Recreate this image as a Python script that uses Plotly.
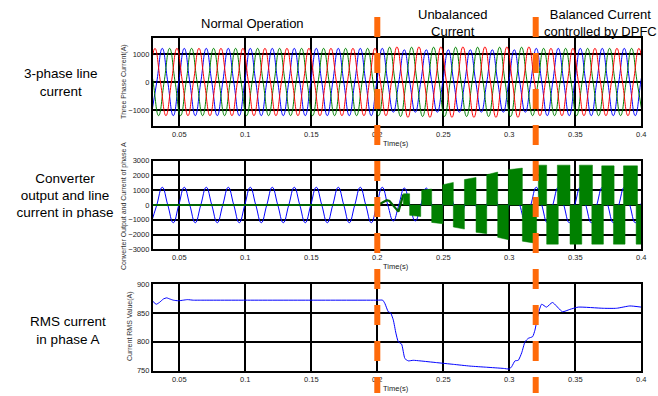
import numpy as np
import plotly.graph_objects as go

# ---------------- data ----------------
QUARTER = 1 / 240.0          # sample spacing: quarter cycle of the 60 Hz line current

# phase A (blue): samples every quarter cycle starting at ia_t0
ia_t0 = 0.02877
ia = [-1200, 0, 1200, 0, -1200, 0, 1200, 0, -1200, 0, 1200, 0, -1200, 0, 1200, 0,
      -1200, 0, 1200, 0, -1200, 0, 1200, 0, -1200, 0, 1200, 0, -1200, 0, 1200, 0,
      -1200, 0, 1200, 0, -1200, 0, 1200, 0, -1200, 0, 1200, 0,
      -1080, 0, 1150, 0, -1080, 0, 1150, 0, -1080, 0, 1150, 0, -1080, 0, 1150, 0,
      -1080, 0, 1150, 0, -1080, 0, 1150, 0, -1080, 0, 1200, 0,
      -1200, 0, 1200, 0, -1200, 0, 1200, 0, -1200, 0, 1200, 0, -1200, 0, 1200, 0,
      -1200, 0, 1200]

# phase B (green)
ib_t0 = 0.02599
ib = [1200, 0, -1200, 0, 1200, 0, -1200, 0, 1200, 0, -1200, 0, 1200, 0, -1200, 0,
      1200, 0, -1200, 0, 1200, 0, -1200, 0, 1200, 0, -1200, 0, 1200, 0, -1200, 0,
      1200, 0, -1200, 0, 1200, 0, -1200, 0, 1200, 0, -1200, 0,
      1240, 0, -1230, 0, 1240, 0, -1230, 0, 1240, 0, -1230, 0, 1240, 0, -1230, 0,
      1240, 0, -1230, 0, 1240, 0, -1230, 0, 1240, 0, -1200, 0,
      1200, 0, -1200, 0, 1200, 0, -1200, 0, 1200, 0, -1200, 0, 1200, 0, -1200, 0,
      1200, 0, -1200]

# phase C (red)
ic_t0 = 0.02738
ic = [0, 1200, 0, -1200, 0, 1200, 0, -1200, 0, 1200, 0, -1200, 0, 1200, 0, -1200,
      0, 1200, 0, -1200, 0, 1200, 0, -1200, 0, 1200, 0, -1200, 0, 1200, 0, -1200,
      0, 1200, 0, -1200, 0, 1200, 0, -1200, 0, 1200, 0, -1200,
      0, 1250, 0, -1260, 0, 1250, 0, -1260, 0, 1250, 0, -1260, 0, 1250, 0, -1260,
      0, 1250, 0, -1260, 0, 1250, 0, -1260, 0, 1250, 0, -1200,
      0, 1200, 0, -1200, 0, 1200, 0, -1200, 0, 1200, 0, -1200, 0, 1200, 0, -1200,
      0, 1200, 0]

# converter output: continuous part before switching starts
conv_t = [0.03, 0.2005, 0.2071, 0.2092, 0.2160, 0.2197]
conv_v = [0, 0, 320, 270, -450, 700]

# converter output: switching blocks (half-cycle PWM envelopes)
blk_start = [0.2197, 0.2245, 0.2336, 0.2412, 0.2496, 0.2576, 0.2660, 0.2748, 0.2829, 0.2912,
             0.2993, 0.3099, 0.3220, 0.3283, 0.3364, 0.3460, 0.3531, 0.3625, 0.3700, 0.3789,
             0.3865, 0.3961]
blk_end = [0.2245, 0.2329, 0.2412, 0.2496, 0.2576, 0.2660, 0.2748, 0.2829, 0.2912, 0.2993,
           0.3099, 0.3207, 0.3283, 0.3371, 0.3460, 0.3549, 0.3630, 0.3713, 0.3794, 0.3877,
           0.3971, 0.4000]
blk_v0 = [760, -700, 1000, -1180, 1370, -1490, 1720, -1850, 2050, -2190,
          2390, -2450, 2700, -2650, 2700, -2650, 2700, -2650, 2650, -2650, 2650, -2650]
blk_v1 = [760, -780, 1080, -1270, 1530, -1630, 1870, -1940, 2230, -2350,
          2500, -2600, 2700, -2650, 2700, -2650, 2700, -2650, 2650, -2650, 2650, -2650]

# RMS current of phase A
rms_t = [0.0300, 0.0325, 0.0349, 0.0379, 0.0404, 0.0429, 0.0455, 0.0493, 0.0530, 0.0561,
         0.0606, 0.0650, 0.1000, 0.1500, 0.2000, 0.2041, 0.2058, 0.2083, 0.2101, 0.2121,
         0.2141, 0.2159, 0.2184, 0.2209, 0.2235, 0.2272, 0.2323, 0.2449, 0.2576, 0.2702,
         0.2828, 0.2954, 0.3000, 0.3018, 0.3043, 0.3068, 0.3094, 0.3119, 0.3144, 0.3177,
         0.3194, 0.3220, 0.3245, 0.3282, 0.3327, 0.3403, 0.3458, 0.3522, 0.3711, 0.3812,
         0.3913, 0.4000]
rms_v = [870, 865, 868, 874, 876, 874, 872, 871, 872, 873,
         872, 872, 872, 872, 872, 872, 866, 852, 850, 838,
         815, 800, 796, 771, 767, 768, 767, 764, 761, 758,
         756, 754, 753, 757, 767, 768, 781, 800, 806, 809,
         820, 849, 865, 860, 868, 852, 856, 860, 858, 858,
         862, 860]

event_times = [0.2, 0.32]
x_ticks = [0.05, 0.1, 0.15, 0.2, 0.25, 0.3, 0.35, 0.4]
x_tick_text = ["0.05", "0.1", "0.15", "0.2", "0.25", "0.3", "0.35", "0.4"]
y1_ticks = [-1000, 0, 1000]
y2_ticks = [-3000, -2000, -1000, 0, 1000, 2000, 3000]
y3_ticks = [750, 800, 850, 900]

# ---------------- figure ----------------
W, H = 658, 396
FONT = "Liberation Sans, Arial, sans-serif"

def qt(t0, vals):
    return t0 + QUARTER * np.arange(len(vals))

fig = go.Figure()

# top: three-phase line currents
for t0, vals, col in [(ia_t0, ia, "#0000ff"), (ib_t0, ib, "#008000"), (ic_t0, ic, "#ff0000")]:
    fig.add_trace(go.Scatter(x=qt(t0, vals), y=vals, mode="lines",
                             line=dict(color=col, width=1, shape="spline", smoothing=1.3),
                             xaxis="x", yaxis="y", hoverinfo="skip"))

# middle: line current of phase A and converter output
fig.add_trace(go.Scatter(x=qt(ia_t0, ia), y=ia, mode="lines",
                         line=dict(color="#0000ff", width=1, shape="spline", smoothing=1.3),
                         xaxis="x2", yaxis="y2", hoverinfo="skip"))
fig.add_trace(go.Scatter(x=conv_t, y=conv_v, mode="lines",
                         line=dict(color="#006400", width=2.2),
                         xaxis="x2", yaxis="y2", hoverinfo="skip"))
bx, by = [], []
for t0, t1, v0, v1 in zip(blk_start, blk_end, blk_v0, blk_v1):
    bx += [t0, t0, t1, t1, t0, None]
    by += [0, v0, v1, 0, 0, None]
fig.add_trace(go.Scatter(x=bx, y=by, mode="lines", fill="toself",
                         fillcolor="#008000", line=dict(color="#008000", width=0.5),
                         xaxis="x2", yaxis="y2", hoverinfo="skip"))

# bottom: RMS current
fig.add_trace(go.Scatter(x=rms_t, y=rms_v, mode="lines",
                         line=dict(color="#0000ff", width=1, shape="spline", smoothing=0.5),
                         xaxis="x3", yaxis="y3", hoverinfo="skip"))

# left label that is clipped at the bottom in the reference
fig.add_trace(go.Scatter(x=[65, 65, 65], y=[396 - 180, 396 - 197, 396 - 214], mode="text",
                         text=["Converter", "output and line", "current in phase"],
                         textfont=dict(family=FONT, size=13.5, color="#000"),
                         cliponaxis=True, xaxis="x4", yaxis="y4", hoverinfo="skip"))

XD = [152.9 / W, 641.3 / W]
def ydom(top_px, bot_px):
    return [1 - bot_px / H, 1 - top_px / H]

tickfont = dict(family=FONT, size=7.5, color="#222")
def xax(anchor):
    return dict(domain=XD, anchor=anchor, range=[0.03, 0.4], tickvals=x_ticks,
                ticktext=x_tick_text, showgrid=True, gridcolor="#000", gridwidth=2,
                showline=True, linecolor="#000", linewidth=2, mirror=True, ticks="",
                zeroline=False, tickfont=tickfont, fixedrange=True, automargin=False)
def yax(anchor, dom, rng, tv):
    return dict(domain=dom, anchor=anchor, range=rng, tickvals=tv, showgrid=True,
                gridcolor="#000", gridwidth=2, showline=True, linecolor="#000",
                linewidth=2, mirror=True, ticks="", zeroline=False, tickfont=tickfont,
                fixedrange=True, automargin=False)

ann = []
def add_text(txt, xpx, ypx, size, angle=0, color="#000"):
    ann.append(dict(text=txt, x=xpx / W, y=1 - ypx / H, xref="paper", yref="paper",
                    showarrow=False, xanchor="center", yanchor="middle", textangle=angle,
                    font=dict(family=FONT, size=size, color=color)))

add_text("Normal Operation", 252, 24, 13)
add_text("Unbalanced<br>Current", 452, 23, 13)
add_text("Balanced Current<br>controlled by DPFC", 600, 23, 13)
add_text("3-phase line<br>current", 61, 82, 13.5)
add_text("RMS current<br>in phase A", 68, 330, 13.5)
add_text("Three Phase Current(A)", 124, 82, 7, -90, "#333")
add_text("Converter Output and Current of phase A", 124, 206, 7, -90, "#333")
add_text("Current RMS Value(A)", 130, 326, 7, -90, "#333")
for ypx in (143, 266, 388):
    add_text("Time(s)", 396, ypx, 7.5, 0, "#222")

shapes = []
for te in event_times:
    shapes.append(dict(type="line", xref="x", yref="paper", x0=te, x1=te,
                       y0=1 - 17 / H, y1=1 - 393 / H, layer="above",
                       line=dict(color="#ff6a0a", width=6, dash="20px,16px")))

fig.update_layout(
    width=W, height=H, autosize=False,
    margin=dict(l=0, r=0, t=0, b=0, pad=0, autoexpand=False),
    paper_bgcolor="white", plot_bgcolor="white", showlegend=False,
    xaxis=xax("y"), yaxis=yax("x", ydom(38, 126), [-1570, 1570], y1_ticks),
    xaxis2=xax("y2"), yaxis2=yax("x2", ydom(160.7, 249.3), [-3000, 3000], y2_ticks),
    xaxis3=xax("y3"), yaxis3=yax("x3", ydom(284, 370.7), [750, 900], y3_ticks),
    xaxis4=dict(domain=[0, 0.2], anchor="y4", range=[0, 0.2 * W], visible=False, fixedrange=True),
    yaxis4=dict(domain=ydom(160, 218), anchor="x4", range=[396 - 218, 396 - 160],
                visible=False, fixedrange=True),
    annotations=ann, shapes=shapes,
)

fig.write_html("out.html", config={"responsive": False})
